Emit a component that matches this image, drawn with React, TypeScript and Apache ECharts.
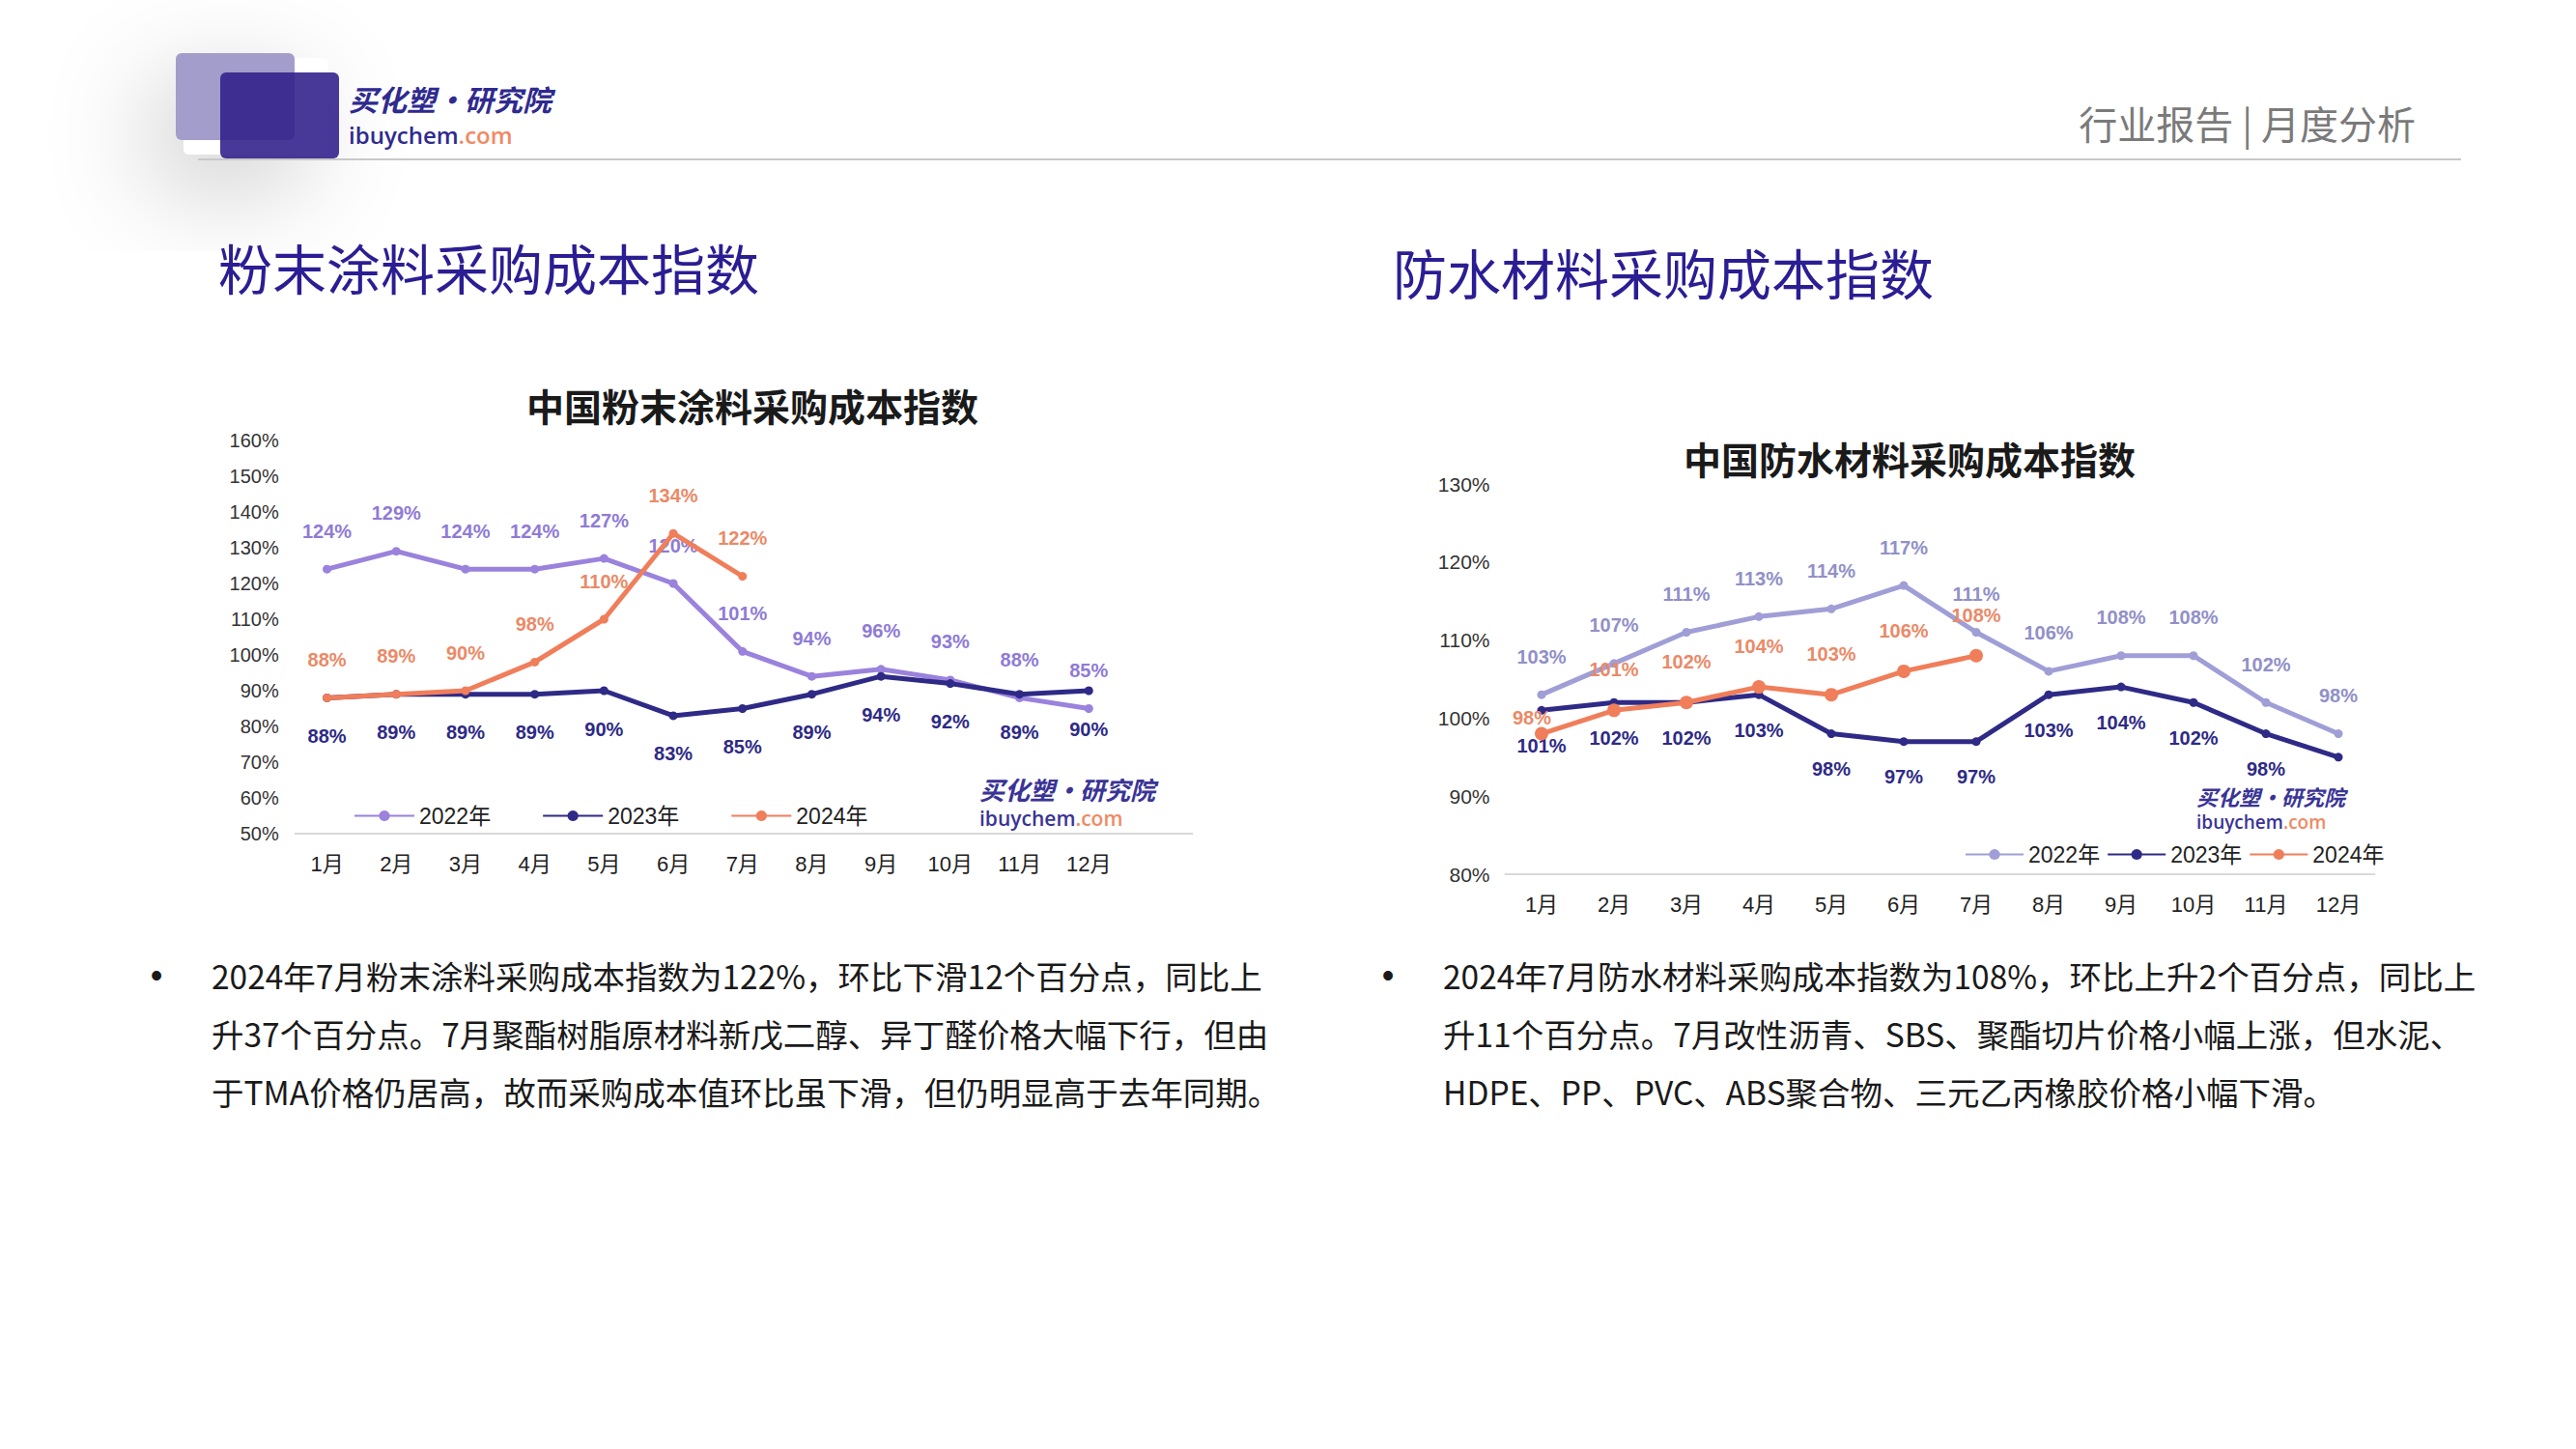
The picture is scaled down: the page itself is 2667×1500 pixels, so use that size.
import React, { useEffect, useRef } from "react";
import * as echarts from "echarts";

const months = ["1月", "2月", "3月", "4月", "5月", "6月", "7月", "8月", "9月", "10月", "11月", "12月"];
const seriesNames = ["2022年", "2023年", "2024年"];

const powder2022 = [124, 129, 124, 124, 127, 120, 101, 94, 96, 93, 88, 85];
const powder2023 = [88, 89, 89, 89, 90, 83, 85, 89, 94, 92, 89, 90];
const powder2024 = [88, 89, 90, 98, 110, 134, 122];

const water2022 = [103, 107, 111, 113, 114, 117, 111, 106, 108, 108, 102, 98];
const water2023 = [101, 102, 102, 103, 98, 97, 97, 103, 104, 102, 98, 95];
const water2024 = [98, 101, 102, 104, 103, 106, 108];

const leftTextLines = [
  "2024年7月粉末涂料采购成本指数为122%，环比下滑12个百分点，同比上",
  "升37个百分点。7月聚酯树脂原材料新戊二醇、异丁醛价格大幅下行，但由",
  "于TMA价格仍居高，故而采购成本值环比虽下滑，但仍明显高于去年同期。",
];
const rightTextLines = [
  "2024年7月防水材料采购成本指数为108%，环比上升2个百分点，同比上",
  "升11个百分点。7月改性沥青、SBS、聚酯切片价格小幅上涨，但水泥、",
  "HDPE、PP、PVC、ABS聚合物、三元乙丙橡胶价格小幅下滑。",
];

const CJK = '"Noto Sans CJK SC", "Microsoft YaHei", sans-serif';
const NUM = '"Liberation Sans", "Noto Sans CJK SC", sans-serif';

const NAVY = "#2e2a86";
const LAV_L = "#9a82dd";
const LAV_R = "#a09ed6";
const ORANGE = "#f07e5a";

function makeSeries(
  name: string,
  values: number[],
  axis: number,
  color: string,
  labelColor: string,
  pos: "top" | "bottom",
  symbolSize: number,
  labelDistance: number,
  hideIdx: number[] = [],
  tightIdx: number[] = []
) {
  return {
    name,
    type: "line",
    xAxisIndex: axis,
    yAxisIndex: axis,
    data: values.map((v, i) => {
      if (hideIdx.includes(i)) return { value: v, label: { show: false } };
      if (tightIdx.includes(i)) return { value: v, label: { distance: 0, offset: [-10, 0] } };
      return v;
    }),
    symbol: "circle",
    symbolSize,
    lineStyle: { color, width: 5 },
    itemStyle: { color },
    z: name === "2024年" ? 4 : name === "2023年" ? 3 : 2,
    label: {
      show: true,
      position: pos,
      distance: labelDistance,
      formatter: "{c}%",
      color: labelColor,
      fontSize: 20,
      fontWeight: "bold",
      fontFamily: NUM,
    },
  };
}

function watermark(x: number, y1: number, y2: number, s1: number, s2: number) {
  return [
    {
      type: "text",
      x,
      y: y1,
      style: {
        text: "买化塑·研究院",
        fontSize: s1,
        fontWeight: "bold",
        fontStyle: "italic",
        fontFamily: CJK,
        fill: "#3a3496",
        verticalAlign: "middle",
      },
    },
    {
      type: "text",
      x,
      y: y2,
      style: {
        text: "{a|ibuychem}{b|.com}",
        verticalAlign: "middle",
        rich: {
          a: { fontSize: s2, fontFamily: '"Open Sans", sans-serif', fill: "#3a3496", fontWeight: 600 },
          b: { fontSize: s2, fontFamily: '"Open Sans", sans-serif', fill: "#f08a64", fontWeight: 600 },
        },
      },
    },
  ];
}

export default function App() {
  const ref = useRef<HTMLDivElement>(null);

  useEffect(() => {
    document.body.style.margin = "0";
    if (!ref.current) return;
    const chart = echarts.init(ref.current, undefined, { renderer: "svg" });

    const axisLabelX = { fontSize: 22, color: "#222", fontFamily: NUM, margin: 20 };

    const graphic: any[] = [
      {
        type: "rect",
        shape: { x: 190, y: 60, width: 150, height: 100, r: 6 },
        style: {
          fill: "#ffffff",
          shadowColor: "rgba(0,0,0,0.22)",
          shadowBlur: 110,
          shadowOffsetX: -30,
          shadowOffsetY: 30,
        },
        z: 0,
      },
      {
        type: "line",
        shape: { x1: 205, y1: 165, x2: 2548, y2: 165 },
        style: { stroke: "#c8c8c8", lineWidth: 2 },
        z: 1,
      },
      {
        type: "rect",
        shape: { x: 182, y: 55, width: 123, height: 90, r: 6 },
        style: { fill: "#a29dca" },
        z: 2,
      },
      {
        type: "rect",
        shape: { x: 228, y: 75, width: 123, height: 89, r: 6 },
        style: { fill: "rgba(52,34,140,0.9)" },
        z: 3,
      },
      {
        type: "text",
        x: 361,
        y: 102,
        style: {
          text: "买化塑·研究院",
          fontSize: 30,
          fontWeight: "bold",
          fontStyle: "italic",
          fontFamily: CJK,
          fill: "#2f2a8f",
          verticalAlign: "middle",
        },
        z: 3,
      },
      {
        type: "text",
        x: 361,
        y: 139,
        style: {
          text: "{a|ibuychem}{b|.com}",
          verticalAlign: "middle",
          rich: {
            a: { fontSize: 24, fontFamily: '"Open Sans", sans-serif', fill: "#2f2a8f", fontWeight: 600 },
            b: { fontSize: 24, fontFamily: '"Open Sans", sans-serif', fill: "#f08a64", fontWeight: 600 },
          },
        },
        z: 3,
      },
      {
        type: "text",
        x: 2501,
        y: 127,
        style: {
          text: "行业报告 | 月度分析",
          fontSize: 40,
          fontFamily: CJK,
          fill: "#7a7a7a",
          align: "right",
          verticalAlign: "middle",
        },
      },
      {
        type: "text",
        x: 226,
        y: 275,
        style: { text: "粉末涂料采购成本指数", fontSize: 56, fontFamily: CJK, fill: "#2b1d93", verticalAlign: "middle" },
      },
      {
        type: "text",
        x: 1442,
        y: 280,
        style: { text: "防水材料采购成本指数", fontSize: 56, fontFamily: CJK, fill: "#2b1d93", verticalAlign: "middle" },
      },
      {
        type: "text",
        x: 779,
        y: 419,
        style: {
          text: "中国粉末涂料采购成本指数",
          fontSize: 39,
          fontWeight: "bold",
          fontFamily: CJK,
          fill: "#1a1a1a",
          align: "center",
          verticalAlign: "middle",
        },
      },
      {
        type: "text",
        x: 1977,
        y: 474,
        style: {
          text: "中国防水材料采购成本指数",
          fontSize: 39,
          fontWeight: "bold",
          fontFamily: CJK,
          fill: "#1a1a1a",
          align: "center",
          verticalAlign: "middle",
        },
      },
      {
        type: "line",
        shape: { x1: 305, y1: 863, x2: 1235, y2: 863 },
        style: { stroke: "#d9d9d9", lineWidth: 2 },
      },
      ...watermark(1014, 816, 847, 26, 21),
      ...watermark(2274, 824, 851, 22, 19),
      {
        type: "text",
        x: 162,
        y: 1009,
        style: { text: "•", fontSize: 36, fontFamily: NUM, fill: "#1a1a1a", align: "center", verticalAlign: "middle" },
      },
      {
        type: "text",
        x: 1437,
        y: 1009,
        style: { text: "•", fontSize: 36, fontFamily: NUM, fill: "#1a1a1a", align: "center", verticalAlign: "middle" },
      },
    ];

    leftTextLines.forEach((t, i) => {
      graphic.push({
        type: "text",
        x: 219,
        y: 1009 + i * 60,
        style: { text: t, fontSize: 33.5, fontFamily: CJK, fill: "#1a1a1a", verticalAlign: "middle" },
      });
    });
    rightTextLines.forEach((t, i) => {
      graphic.push({
        type: "text",
        x: 1494,
        y: 1009 + i * 60,
        style: { text: t, fontSize: 33.5, fontFamily: CJK, fill: "#1a1a1a", verticalAlign: "middle" },
      });
    });

    const legendText = { fontSize: 23, color: "#222", fontFamily: NUM };

    const option: any = {
      animation: false,
      backgroundColor: "#ffffff",
      graphic,
      grid: [
        { left: 302.7, top: 456, width: 860.4, height: 407 },
        { left: 1558.5, top: 501, width: 900, height: 404 },
      ],
      legend: [
        {
          left: 361,
          top: 828,
          itemWidth: 62,
          itemHeight: 14,
          itemGap: 53,
          textStyle: legendText,
          data: [
            { name: seriesNames[0], itemStyle: { color: LAV_L }, lineStyle: { color: LAV_L } },
            { name: seriesNames[1], itemStyle: { color: NAVY }, lineStyle: { color: NAVY } },
            { name: seriesNames[2], itemStyle: { color: ORANGE }, lineStyle: { color: ORANGE } },
          ],
        },
        {
          left: 2029,
          top: 868,
          itemWidth: 60,
          itemHeight: 14,
          itemGap: 7,
          textStyle: legendText,
          data: [
            { name: seriesNames[0], itemStyle: { color: LAV_R }, lineStyle: { color: LAV_R } },
            { name: seriesNames[1], itemStyle: { color: NAVY }, lineStyle: { color: NAVY } },
            { name: seriesNames[2], itemStyle: { color: ORANGE }, lineStyle: { color: ORANGE } },
          ],
        },
      ],
      xAxis: [
        {
          gridIndex: 0,
          type: "category",
          data: months,
          boundaryGap: true,
          axisLine: { show: false },
          axisTick: { show: false },
          axisLabel: axisLabelX,
        },
        {
          gridIndex: 1,
          type: "category",
          data: months,
          boundaryGap: true,
          axisLine: { show: true, lineStyle: { color: "#d9d9d9", width: 2 } },
          axisTick: { show: false },
          axisLabel: axisLabelX,
        },
      ],
      yAxis: [
        {
          gridIndex: 0,
          type: "value",
          min: 50,
          max: 160,
          interval: 10,
          splitLine: { show: false },
          axisLine: { show: false },
          axisTick: { show: false },
          axisLabel: { formatter: "{value}%", fontSize: 20, color: "#333", fontFamily: NUM, margin: 14 },
        },
        {
          gridIndex: 1,
          type: "value",
          min: 80,
          max: 130,
          interval: 10,
          splitLine: { show: false },
          axisLine: { show: false },
          axisTick: { show: false },
          axisLabel: { formatter: "{value}%", fontSize: 21, color: "#333", fontFamily: NUM, margin: 16 },
        },
      ],
      series: [
        makeSeries(seriesNames[0], powder2022, 0, LAV_L, "#8f7bd6", "top", 9, 25),
        makeSeries(seriesNames[1], powder2023, 0, NAVY, NAVY, "bottom", 9, 25),
        makeSeries(seriesNames[2], powder2024, 0, ORANGE, "#ea8a68", "top", 9, 25),
        makeSeries(seriesNames[0], water2022, 1, LAV_R, "#9190c8", "top", 9, 25),
        makeSeries(seriesNames[1], water2023, 1, NAVY, NAVY, "bottom", 9, 22, [11]),
        makeSeries(seriesNames[2], water2024, 1, ORANGE, "#ea8a68", "top", 14, 25, [], [0]),
      ],
    };

    chart.setOption(option);
    return () => chart.dispose();
  }, []);

  return <div ref={ref} style={{ width: 2667, height: 1500 }} />;
}
